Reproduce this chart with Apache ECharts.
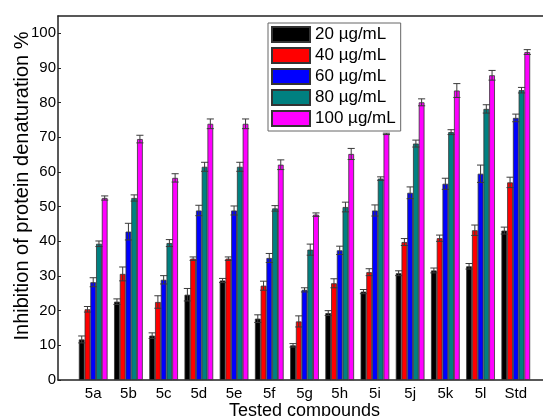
<!DOCTYPE html>
<html>
<head>
<meta charset="utf-8">
<script src="https://cdn.jsdelivr.net/npm/echarts@6/dist/echarts.min.js"></script>
<style>
  html, body { margin: 0; padding: 0; background: #fff; }
  #chart { width: 543px; height: 416px; }
</style>
</head>
<body>
<div id="chart"></div>
<script>
// compounds on the x axis (blank slots at both ends pad the axis like the original)
const compounds = ['5a', '5b', '5c', '5d', '5e', '5f', '5g', '5h', '5i', '5j', '5k', '5l', 'Std']
const categories = [''].concat(compounds, [''])

const concLabels = ['20 µg/mL', '40 µg/mL', '60 µg/mL', '80 µg/mL', '100 µg/mL']
const concColors = ['#000000', '#ff0000', '#0000ff', '#008080', '#ff00ff']

// mean inhibition %, one array per concentration
const conc20 = [11.7, 22.6, 12.8, 24.6, 28.7, 17.7, 10.0, 19.3, 25.5, 30.8, 31.6, 32.8, 43.1]
const conc40 = [20.4, 30.6, 22.5, 35.0, 35.0, 27.2, 16.9, 27.9, 31.1, 39.8, 40.9, 43.2, 57.0]
const conc60 = [28.2, 42.8, 28.9, 48.9, 48.9, 35.2, 26.0, 37.4, 48.9, 54.0, 56.6, 59.5, 75.6]
const conc80 = [39.3, 52.5, 39.5, 61.5, 61.5, 49.5, 37.6, 49.9, 58.1, 68.2, 71.5, 78.2, 83.6]
const conc100 = [52.5, 69.5, 58.3, 73.9, 73.9, 62.1, 47.7, 65.2, 71.0, 80.1, 83.5, 87.9, 94.6]

// standard deviations (error bars)
const err20 = [1.0, 0.8, 0.8, 1.8, 0.6, 1.1, 0.5, 0.7, 0.6, 0.7, 0.7, 0.8, 1.0]
const err40 = [0.8, 2.0, 1.8, 0.5, 0.5, 1.3, 1.6, 1.3, 1.0, 1.0, 0.9, 1.5, 1.5]
const err60 = [1.3, 2.4, 1.2, 1.5, 1.3, 1.3, 0.6, 1.2, 1.6, 1.7, 1.6, 2.5, 1.1]
const err80 = [0.8, 0.9, 1.0, 1.3, 1.3, 0.8, 1.6, 1.4, 0.5, 1.0, 0.7, 1.2, 0.8]
const err100 = [0.6, 1.1, 1.2, 1.4, 1.4, 1.4, 0.5, 1.6, 0.2, 1.0, 2.0, 1.4, 0.7]

const yTicks = [0, 10, 20, 30, 40, 50, 60, 70, 80, 90, 100]

const means = [conc20, conc40, conc60, conc80, conc100]
const errors = [err20, err40, err60, err80, err100]

const BAR_FRAC = 0.163 // bar width as a share of the category band
const FONT = 'Liberation Sans, Arial, sans-serif'

const chart = echarts.init(document.getElementById('chart'))

// error bar drawing: vertical whisker plus caps, shifted onto bar k
const makeErrorRender = (k) => (params, api) => {
  const band = api.size([1, 0])[0]
  const bw = band * BAR_FRAC
  const base = api.coord([api.value(0), api.value(1)])
  const top = api.coord([api.value(0), api.value(2)])
  const x = base[0] + (k - 2) * bw
  const half = bw * 0.62
  const style = { stroke: '#3a3a3a', lineWidth: 1 }
  return {
    type: 'group',
    children: [
      { type: 'line', shape: { x1: x, y1: base[1], x2: x, y2: top[1] }, style },
      { type: 'line', shape: { x1: x - half, y1: base[1], x2: x + half, y2: base[1] }, style },
      { type: 'line', shape: { x1: x - half, y1: top[1], x2: x + half, y2: top[1] }, style },
    ],
  }
}

const barSeries = concLabels.map((name, k) => ({
  name,
  type: 'bar',
  barWidth: (BAR_FRAC * 100) + '%',
  barGap: '0%',
  data: means[k].map((v, i) => [i + 1, v]),
  itemStyle: { color: concColors[k], borderColor: '#333', borderWidth: 0.8 },
}))

const errSeries = concLabels.map((name, k) => ({
  type: 'custom',
  renderItem: makeErrorRender(k),
  data: means[k].map((v, i) => [i + 1, v - errors[k][i], v + errors[k][i]]),
  z: 5,
  silent: true,
}))

chart.setOption({
  animation: false,
  textStyle: { fontFamily: FONT },
  grid: { left: 58, right: -8, top: 16, bottom: 36, outerBoundsMode: 'none' },
  legend: {
    data: concLabels,
    orient: 'vertical',
    left: 268,
    top: 23,
    icon: 'rect',
    itemWidth: 38,
    itemHeight: 15,
    itemGap: 4,
    padding: [3, 5, 4, 3],
    backgroundColor: '#fff',
    borderColor: '#666',
    borderWidth: 1,
    textStyle: { fontSize: 17, color: '#000', fontFamily: FONT },
  },
  xAxis: [
    {
      type: 'category',
      data: categories,
      boundaryGap: false,
      name: 'Tested compounds',
      nameLocation: 'middle',
      nameGap: 22,
      nameMoveOverlap: false,
      nameTextStyle: { fontSize: 18, color: '#000', fontFamily: FONT },
      axisLine: { lineStyle: { color: '#222', width: 1.5 } },
      axisTick: { show: false },
      axisLabel: { fontSize: 15, color: '#000', margin: 6, interval: 0 },
      splitLine: { show: false },
    },
    {
      type: 'category',
      data: categories,
      boundaryGap: false,
      position: 'top',
      axisLine: { lineStyle: { color: '#222', width: 1.5 } },
      axisTick: { show: false },
      axisLabel: { show: false },
    },
  ],
  yAxis: {
    type: 'value',
    min: 0,
    max: 105,
    interval: 10,
    name: 'Inhibition of protein denaturation %',
    nameLocation: 'middle',
    nameGap: 26,
    nameMoveOverlap: false,
    nameTextStyle: { fontSize: 20, color: '#000', fontFamily: FONT, padding: [0, 0, 0, 24] },
    axisLine: { show: true, lineStyle: { color: '#222', width: 1.5 } },
    axisTick: { show: true, inside: true, length: 3, lineStyle: { color: '#222' } },
    axisLabel: {
      fontSize: 15,
      color: '#000',
      margin: 2,
      showMaxLabel: false,
      formatter: (v) => (yTicks.includes(v) ? String(v) : ''),
    },
    splitLine: { show: false },
  },
  series: barSeries.concat(errSeries),
})
</script>
</body>
</html>
